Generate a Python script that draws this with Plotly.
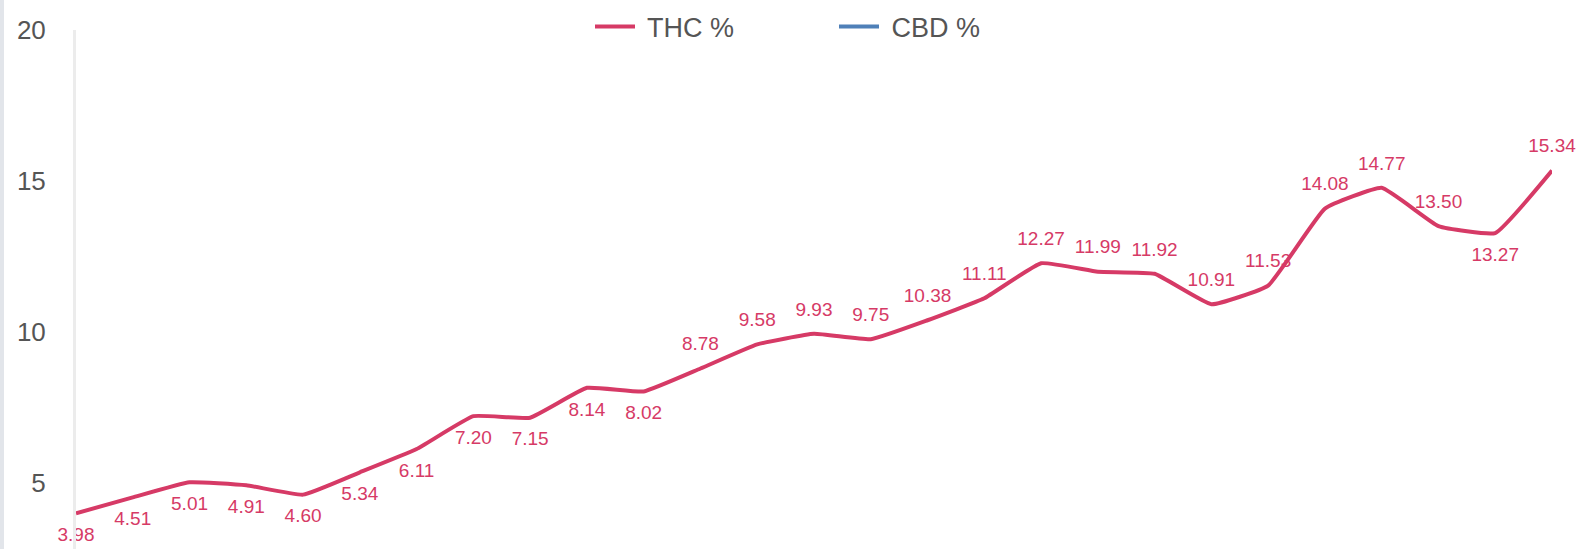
import plotly.graph_objects as go

# Yearly potency figures
years = [str(y) for y in range(1995, 2022)]
thc_pct = [3.98, 4.51, 5.01, 4.91, 4.60, 5.34, 6.11, 7.20, 7.15, 8.14, 8.02,
           8.78, 9.58, 9.93, 9.75, 10.38, 11.11, 12.27, 11.99, 11.92, 10.91,
           11.53, 14.08, 14.77, 13.50, 13.27, 15.34]
# No CBD readings recorded for these years
cbd_pct = [None] * len(years)

# Which side of the line each value label sits on
label_side = ["bottom"] * 11 + ["top"] * 14 + ["bottom", "top"]

THC_COLOR = "#d63a66"
CBD_COLOR = "#4f80b8"
FONT = "Liberation Sans, Arial, sans-serif"

W, H = 1585, 549
L, R, T, B = 76, 33, 30, 0
plot_h = H - T - B
px_per_unit = 30.17
y_top = 20.0
y_bottom = y_top - plot_h / px_per_unit

fig = go.Figure()

# Value labels drawn first so the line passes over them
fig.add_trace(go.Scatter(
    x=years, y=thc_pct,
    mode="markers+text",
    text=[f"{v:.2f}" for v in thc_pct],
    textposition=[f"{s} center" for s in label_side],
    textfont=dict(family=FONT, size=19, color=THC_COLOR),
    marker=dict(size=20, color="rgba(0,0,0,0)"),
    showlegend=False, hoverinfo="skip", cliponaxis=False,
))

fig.add_trace(go.Scatter(
    x=years, y=thc_pct, name=" THC %",
    mode="lines",
    line=dict(color=THC_COLOR, width=4, shape="spline", smoothing=0.35),
    cliponaxis=False,
))

fig.add_trace(go.Scatter(
    x=years, y=cbd_pct, name=" CBD %",
    mode="lines",
    line=dict(color=CBD_COLOR, width=4),
    showlegend=True,
))

pw = W - L - R
ph = plot_h
fig.add_shape(type="rect", xref="paper", yref="paper",
              x0=-L / pw, x1=(-L + 4) / pw, y0=-B / ph, y1=1 + T / ph,
              fillcolor="#e2e5ea", line_width=0, layer="below")

fig.update_layout(
    width=W, height=H,
    margin=dict(l=L, r=R, t=T, b=B, pad=0, autoexpand=False),
    paper_bgcolor="white", plot_bgcolor="white",
    font=dict(family=FONT, color="#555555"),
    legend=dict(
        orientation="h", xref="container", yref="container",
        x=(598 - 8) / W, xanchor="left", y=1 - 27 / H, yanchor="middle",
        font=dict(family=FONT, size=27, color="#555555"),
        entrywidth=189, entrywidthmode="pixels",
        itemwidth=40, bgcolor="rgba(0,0,0,0)",
    ),
    xaxis=dict(
        type="category", range=[0, len(years) - 1],
        showticklabels=False, showgrid=False, zeroline=False,
        showline=False, ticks="",
    ),
    yaxis=dict(
        range=[y_bottom, y_top + 0.001],
        tickvals=[5, 10, 15, 20],
        tickfont=dict(family=FONT, size=26, color="#555555"),
        showgrid=False, zeroline=False,
        showline=True, linecolor="#ececec", linewidth=3,
        ticks="outside", ticklen=22, tickcolor="rgba(0,0,0,0)",
    ),
)

fig.write_html("out.html")
